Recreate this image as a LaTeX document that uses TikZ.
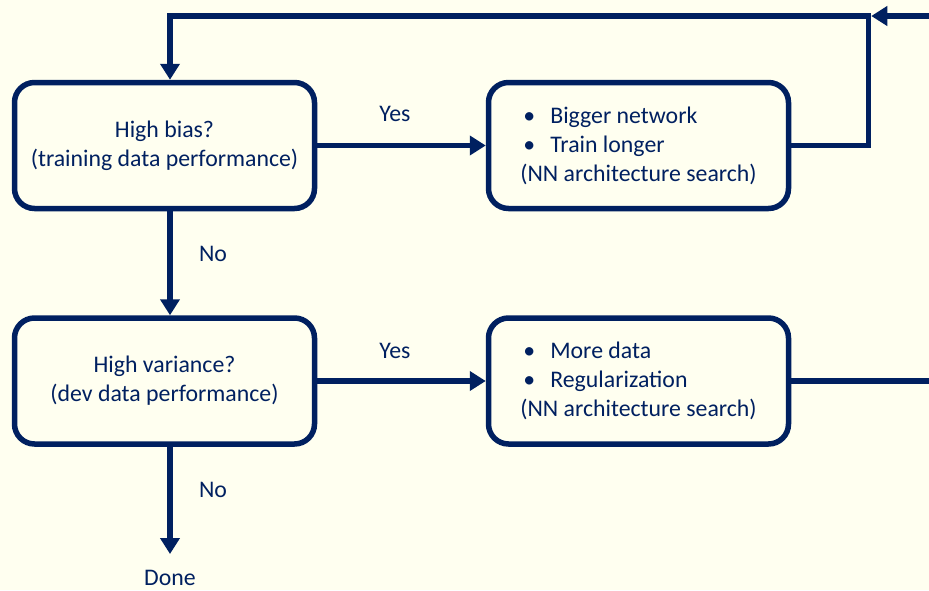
\documentclass[tikz,border=0pt]{standalone}
\usepackage{fontspec}
\setmainfont{Carlito}
\usetikzlibrary{arrows.meta}
\definecolor{navy}{RGB}{0,32,96}
\definecolor{paper}{RGB}{255,255,240}
% bullet with a fixed hanging indent
\newcommand{\blt}{\makebox[30pt][l]{\hspace{3pt}•}}
\begin{document}
\begin{tikzpicture}[x=1pt,y=-1pt,
  box/.style={draw=navy, line width=5.5pt, rounded corners=20pt,
    minimum width=300pt, minimum height=126pt, inner sep=0pt,
    text=navy, align=center, font=\fontsize{23.8}{29}\selectfont},
  flow/.style={draw=navy, line width=5.5pt, -{Triangle[length=16pt,width=19pt]}},
  link/.style={draw=navy, line width=5.5pt},
  lbl/.style={text=navy, inner sep=0pt, font=\fontsize{23.8}{28}\selectfont}]

% page
\fill[paper] (0,0) rectangle (929,590);
\useasboundingbox (0,0) rectangle (929,590);

% decision and action boxes
\node[box] (bias) at (164.5,145.5) {High bias?\\(training data performance)};
\node[box, align=left] (bigger) at (638.5,145.5)
  {\blt Bigger network\\\blt Train longer\\(NN architecture search)};
\node[box] (variance) at (164.5,381) {High variance?\\(dev data performance)};
\node[box, align=left] (moredata) at (638.5,381)
  {\blt More data\\\blt Regularization\\(NN architecture search)};

% routing points
\coordinate (colx) at (170,0);
\coordinate (loop) at (868.5,16);
\coordinate (edgetop) at (929,16);
\coordinate (edgemid) at (929,381);
\coordinate (donetip) at (170,554);

% labels
\node[lbl] (yes1) at (395,114) {Yes};
\node[lbl] (no1) at (213,254) {No};
\node[lbl] (yes2) at (395,351) {Yes};
\node[lbl] (no2) at (213,490) {No};
\node[lbl] (done) at (170,578) {Done};

% connectors
\draw[flow] (bias.east) -- (bigger.west);
\draw[flow] (bias.south -| colx) -- (variance.north -| colx);
\draw[flow] (variance.east) -- (moredata.west);
\draw[flow] (variance.south -| colx) -- (donetip);
\draw[flow] (bigger.east) -| (loop) -| (bias.north -| colx);
\draw[flow] (edgetop) -- ([xshift=2.75pt]loop);
\draw[link] (moredata.east) -- (edgemid);
\end{tikzpicture}
\end{document}
